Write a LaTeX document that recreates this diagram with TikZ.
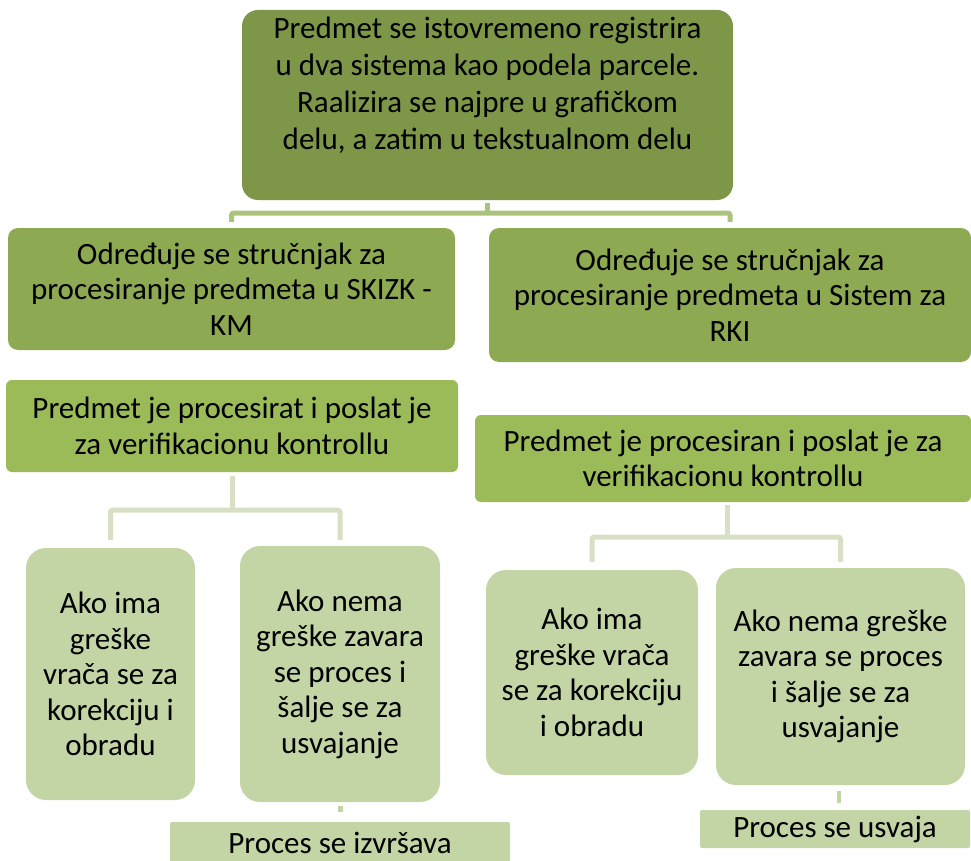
\documentclass[tikz,border=0pt]{standalone}
\usepackage{fontspec}
\setmainfont{Carlito}
\usetikzlibrary{positioning}
\definecolor{topgreen}{RGB}{126,150,72}
\definecolor{midgreen}{RGB}{141,169,81}
\definecolor{rowgreen}{RGB}{155,187,89}
\definecolor{leafgreen}{RGB}{195,212,165}
\definecolor{linkgreen}{RGB}{170,196,126}
\definecolor{palegreen}{RGB}{215,224,196}

\begin{document}
\begin{tikzpicture}[x=1pt, y=-1pt,
    box/.style={inner sep=0pt, align=center, font=\fontsize{31}{35.5}\selectfont},
    topconn/.style={draw=linkgreen, line width=5pt, rounded corners=2pt},
    lowconn/.style={draw=palegreen, line width=5pt, rounded corners=2pt}]

    \useasboundingbox (0,0) rectangle (971,861);

    % top box
    \node[box, fill=topgreen, rounded corners=16pt, minimum width=491, minimum height=190] (T) at (487.5,105) {};
    \node[inner sep=0pt, align=center, font=\fontsize{31}{37}\selectfont] (TT) at (487.5,85)
        {Predmet se istovremeno registrira\\u dva sistema kao podela parcele.\\Raalizira se najpre u grafičkom\\delu, a zatim u tekstualnom delu};

    % second row
    \node[box, fill=midgreen, rounded corners=10pt, minimum width=447, minimum height=122] (L) at (231.5,289)
        {Određuje se stručnjak za\\procesiranje predmeta u SKIZK -\\KM};
    \node[box, fill=midgreen, rounded corners=10pt, minimum width=482, minimum height=134] (R) at (730,295)
        {Određuje se stručnjak za\\procesiranje predmeta u Sistem za\\RKI};

    % third row
    \node[box, fill=rowgreen, rounded corners=6pt, minimum width=452, minimum height=92] (LL) at (232,426)
        {Predmet je procesirat i poslat je\\za verifikacionu kontrollu};
    \node[box, fill=rowgreen, rounded corners=6pt, minimum width=496, minimum height=87] (RR) at (723,458.5)
        {Predmet je procesiran i poslat je za\\verifikacionu kontrollu};

    % leaves
    \node[box, fill=leafgreen, rounded corners=20pt, minimum width=169, minimum height=252] (LA) at (110.5,674)
        {Ako ima\\greške\\vrača se za\\korekciju i\\obradu};
    \node[box, fill=leafgreen, rounded corners=20pt, minimum width=200, minimum height=256] (LB) at (340,674)
        {Ako nema\\greške zavara\\se proces i\\šalje se za\\usvajanje};
    \node[box, fill=leafgreen, rounded corners=20pt, minimum width=212, minimum height=205] (RA) at (592,672.5)
        {Ako ima\\greške vrača\\se za korekciju\\i obradu};
    \node[box, fill=leafgreen, rounded corners=20pt, minimum width=249, minimum height=217] (RB) at (840.5,676.5)
        {Ako nema greške\\zavara se proces\\i šalje se za\\usvajanje};

    % bottom
    \node[box, fill=leafgreen, rounded corners=2pt, minimum width=340, minimum height=42] (LP) at (340,843)
        {Proces se izvršava};
    \node[box, fill=leafgreen, rounded corners=2pt, minimum width=270, minimum height=38] (RP) at (835,829)
        {Proces se usvaja};

    % connectors
    \draw[topconn] ([yshift=-3pt]T.south) -- ++(0,10) coordinate (tm);
    \draw[topconn] ([yshift=6pt]L.north) |- (tm) -| ([yshift=6pt]R.north);

    \draw[lowconn] ([yshift=-4pt]LL.south) -- ++(0,34) coordinate (lm);
    \draw[lowconn] ([yshift=8pt]LA.north) |- (lm) -| ([yshift=6pt]LB.north);

    \draw[lowconn] ([xshift=4pt, yshift=-3pt]RR.south) -- ++(0,32) coordinate (rm);
    \draw[lowconn] ([yshift=8pt]RA.north) |- (rm) -| ([yshift=6pt]RB.north);

    \draw[draw=leafgreen, line width=5pt] ([yshift=-4pt]LB.south) -- ([yshift=-10pt]LB.south);
    \draw[draw=leafgreen, line width=4pt] ([xshift=-2pt, yshift=-6pt]RB.south) -- ([xshift=-2pt, yshift=-18pt]RB.south);

\end{tikzpicture}
\end{document}
